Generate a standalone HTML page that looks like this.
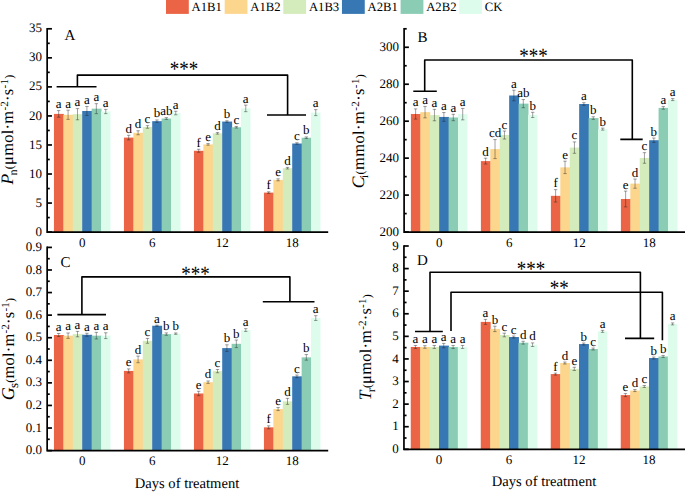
<!DOCTYPE html>
<html><head><meta charset="utf-8"><style>
html,body{margin:0;padding:0;background:#fff;}
svg{display:block;}
text{font-family:"Liberation Serif", serif;fill:#000;text-rendering:geometricPrecision;}
.tk{font-size:13px;}
.lt{font-size:13px;text-anchor:middle;}
.pl{font-size:15px;}
.st{font-size:19px;text-anchor:middle;}
.lg{font-size:12.7px;}
.xt{font-size:14.6px;}
.yl{font-size:16.5px;}
</style></head><body>
<svg width="685" height="492" viewBox="0 0 685 492">
<rect width="685" height="492" fill="#fff"/>
<rect x="53.95" y="113.90" width="9.92" height="118.20" fill="#EB6445"/>
<rect x="63.37" y="114.77" width="9.92" height="117.33" fill="#FDD68E"/>
<rect x="72.79" y="114.19" width="9.92" height="117.91" fill="#D4EBBB"/>
<rect x="82.21" y="110.99" width="9.92" height="121.11" fill="#3777B4"/>
<rect x="91.63" y="108.67" width="9.92" height="123.43" fill="#8BCDB4"/>
<rect x="101.05" y="111.51" width="9.42" height="120.59" fill="#DDFCEC"/>
<rect x="123.95" y="137.59" width="9.92" height="94.51" fill="#EB6445"/>
<rect x="133.37" y="132.77" width="9.92" height="99.33" fill="#FDD68E"/>
<rect x="142.79" y="126.96" width="9.92" height="105.14" fill="#D4EBBB"/>
<rect x="152.21" y="121.16" width="9.92" height="110.94" fill="#3777B4"/>
<rect x="161.63" y="118.54" width="9.92" height="113.56" fill="#8BCDB4"/>
<rect x="171.05" y="113.02" width="9.42" height="119.08" fill="#DDFCEC"/>
<rect x="193.95" y="150.78" width="9.92" height="81.32" fill="#EB6445"/>
<rect x="203.37" y="144.39" width="9.92" height="87.71" fill="#FDD68E"/>
<rect x="212.79" y="133.35" width="9.92" height="98.75" fill="#D4EBBB"/>
<rect x="222.21" y="121.56" width="9.92" height="110.54" fill="#3777B4"/>
<rect x="231.63" y="127.26" width="9.92" height="104.84" fill="#8BCDB4"/>
<rect x="241.05" y="108.38" width="9.42" height="123.72" fill="#DDFCEC"/>
<rect x="263.95" y="192.60" width="9.92" height="39.50" fill="#EB6445"/>
<rect x="273.37" y="179.82" width="9.92" height="52.28" fill="#FDD68E"/>
<rect x="282.79" y="168.21" width="9.92" height="63.89" fill="#D4EBBB"/>
<rect x="292.21" y="143.52" width="9.92" height="88.58" fill="#3777B4"/>
<rect x="301.63" y="137.71" width="9.92" height="94.39" fill="#8BCDB4"/>
<rect x="311.05" y="112.62" width="9.42" height="119.48" fill="#DDFCEC"/>
<path d="M56.96 110.60H60.36M58.66 110.60V117.20M56.96 117.20H60.36" stroke="#222" stroke-width="0.6" stroke-opacity="0.72" fill="none"/>
<text x="58.66" y="108.10" class="lt">a</text>
<path d="M66.38 110.17H69.78M68.08 110.17V119.37M66.38 119.37H69.78" stroke="#222" stroke-width="0.6" stroke-opacity="0.72" fill="none"/>
<text x="68.08" y="107.67" class="lt">a</text>
<path d="M75.80 108.59H79.20M77.50 108.59V119.79M75.80 119.79H79.20" stroke="#222" stroke-width="0.6" stroke-opacity="0.72" fill="none"/>
<text x="77.50" y="106.09" class="lt">a</text>
<path d="M85.22 106.49H88.62M86.92 106.49V115.49M85.22 115.49H88.62" stroke="#222" stroke-width="0.6" stroke-opacity="0.72" fill="none"/>
<text x="86.92" y="103.99" class="lt">a</text>
<path d="M94.64 103.67H98.04M96.34 103.67V113.67M94.64 113.67H98.04" stroke="#222" stroke-width="0.6" stroke-opacity="0.72" fill="none"/>
<text x="96.34" y="101.17" class="lt">a</text>
<path d="M104.06 109.41H107.46M105.76 109.41V113.61M104.06 113.61H107.46" stroke="#222" stroke-width="0.6" stroke-opacity="0.72" fill="none"/>
<text x="105.76" y="106.91" class="lt">a</text>
<path d="M126.96 135.29H130.36M128.66 135.29V139.89M126.96 139.89H130.36" stroke="#222" stroke-width="0.6" stroke-opacity="0.72" fill="none"/>
<text x="128.66" y="132.79" class="lt">d</text>
<path d="M136.38 130.77H139.78M138.08 130.77V134.77M136.38 134.77H139.78" stroke="#222" stroke-width="0.6" stroke-opacity="0.72" fill="none"/>
<text x="138.08" y="128.27" class="lt">d</text>
<path d="M145.80 125.66H149.20M147.50 125.66V128.26M145.80 128.26H149.20" stroke="#222" stroke-width="0.6" stroke-opacity="0.72" fill="none"/>
<text x="147.50" y="123.16" class="lt">c</text>
<path d="M155.22 119.96H158.62M156.92 119.96V122.36M155.22 122.36H158.62" stroke="#222" stroke-width="0.6" stroke-opacity="0.72" fill="none"/>
<text x="156.92" y="117.46" class="lt">b</text>
<path d="M164.64 117.64H168.04M166.34 117.64V119.44M164.64 119.44H168.04" stroke="#222" stroke-width="0.6" stroke-opacity="0.72" fill="none"/>
<text x="166.34" y="115.14" class="lt">ab</text>
<path d="M174.06 111.22H177.46M175.76 111.22V114.82M174.06 114.82H177.46" stroke="#222" stroke-width="0.6" stroke-opacity="0.72" fill="none"/>
<text x="175.76" y="108.72" class="lt">a</text>
<path d="M196.96 149.28H200.36M198.66 149.28V152.28M196.96 152.28H200.36" stroke="#222" stroke-width="0.6" stroke-opacity="0.72" fill="none"/>
<text x="198.66" y="146.78" class="lt">f</text>
<path d="M206.38 143.59H209.78M208.08 143.59V145.19M206.38 145.19H209.78" stroke="#222" stroke-width="0.6" stroke-opacity="0.72" fill="none"/>
<text x="208.08" y="141.09" class="lt">e</text>
<path d="M215.80 132.55H219.20M217.50 132.55V134.15M215.80 134.15H219.20" stroke="#222" stroke-width="0.6" stroke-opacity="0.72" fill="none"/>
<text x="217.50" y="130.05" class="lt">d</text>
<path d="M225.22 120.76H228.62M226.92 120.76V122.36M225.22 122.36H228.62" stroke="#222" stroke-width="0.6" stroke-opacity="0.72" fill="none"/>
<text x="226.92" y="118.26" class="lt">b</text>
<path d="M234.64 126.46H238.04M236.34 126.46V128.06M234.64 128.06H238.04" stroke="#222" stroke-width="0.6" stroke-opacity="0.72" fill="none"/>
<text x="236.34" y="123.96" class="lt">c</text>
<path d="M244.06 105.08H247.46M245.76 105.08V111.68M244.06 111.68H247.46" stroke="#222" stroke-width="0.6" stroke-opacity="0.72" fill="none"/>
<text x="245.76" y="102.58" class="lt">a</text>
<path d="M266.96 191.80H270.36M268.66 191.80V193.40M266.96 193.40H270.36" stroke="#222" stroke-width="0.6" stroke-opacity="0.72" fill="none"/>
<text x="268.66" y="189.30" class="lt">f</text>
<path d="M276.38 178.82H279.78M278.08 178.82V180.82M276.38 180.82H279.78" stroke="#222" stroke-width="0.6" stroke-opacity="0.72" fill="none"/>
<text x="278.08" y="176.32" class="lt">e</text>
<path d="M285.80 167.41H289.20M287.50 167.41V169.01M285.80 169.01H289.20" stroke="#222" stroke-width="0.6" stroke-opacity="0.72" fill="none"/>
<text x="287.50" y="164.91" class="lt">d</text>
<path d="M295.22 142.72H298.62M296.92 142.72V144.32M295.22 144.32H298.62" stroke="#222" stroke-width="0.6" stroke-opacity="0.72" fill="none"/>
<text x="296.92" y="140.22" class="lt">c</text>
<path d="M304.64 136.91H308.04M306.34 136.91V138.51M304.64 138.51H308.04" stroke="#222" stroke-width="0.6" stroke-opacity="0.72" fill="none"/>
<text x="306.34" y="134.41" class="lt">b</text>
<path d="M314.06 109.62H317.46M315.76 109.62V115.62M314.06 115.62H317.46" stroke="#222" stroke-width="0.6" stroke-opacity="0.72" fill="none"/>
<text x="315.76" y="107.12" class="lt">a</text>
<path d="M47.15 28.80V232.10H327.35" stroke="#000" stroke-width="1.7" fill="none" stroke-linecap="square"/>
<path d="M47.15 232.10H51.95" stroke="#000" stroke-width="1.7"/>
<path d="M47.15 203.06H51.95" stroke="#000" stroke-width="1.7"/>
<path d="M47.15 174.01H51.95" stroke="#000" stroke-width="1.7"/>
<path d="M47.15 144.97H51.95" stroke="#000" stroke-width="1.7"/>
<path d="M47.15 115.93H51.95" stroke="#000" stroke-width="1.7"/>
<path d="M47.15 86.89H51.95" stroke="#000" stroke-width="1.7"/>
<path d="M47.15 57.84H51.95" stroke="#000" stroke-width="1.7"/>
<path d="M47.15 28.80H51.95" stroke="#000" stroke-width="1.7"/>
<path d="M47.15 217.58H49.75" stroke="#000" stroke-width="1.7"/>
<path d="M47.15 188.54H49.75" stroke="#000" stroke-width="1.7"/>
<path d="M47.15 159.49H49.75" stroke="#000" stroke-width="1.7"/>
<path d="M47.15 130.45H49.75" stroke="#000" stroke-width="1.7"/>
<path d="M47.15 101.41H49.75" stroke="#000" stroke-width="1.7"/>
<path d="M47.15 72.36H49.75" stroke="#000" stroke-width="1.7"/>
<path d="M47.15 43.32H49.75" stroke="#000" stroke-width="1.7"/>
<text x="42.05" y="235.70" class="tk" text-anchor="end">0</text>
<text x="42.05" y="206.66" class="tk" text-anchor="end">5</text>
<text x="42.05" y="177.61" class="tk" text-anchor="end">10</text>
<text x="42.05" y="148.57" class="tk" text-anchor="end">15</text>
<text x="42.05" y="119.53" class="tk" text-anchor="end">20</text>
<text x="42.05" y="90.49" class="tk" text-anchor="end">25</text>
<text x="42.05" y="61.44" class="tk" text-anchor="end">30</text>
<text x="42.05" y="32.40" class="tk" text-anchor="end">35</text>
<text x="82.21" y="246.90" class="tk" text-anchor="middle">0</text>
<text x="152.21" y="246.90" class="tk" text-anchor="middle">6</text>
<text x="222.21" y="246.90" class="tk" text-anchor="middle">12</text>
<text x="292.21" y="246.90" class="tk" text-anchor="middle">18</text>
<rect x="410.90" y="113.98" width="9.92" height="118.07" fill="#EB6445"/>
<rect x="420.32" y="112.13" width="9.92" height="119.92" fill="#FDD68E"/>
<rect x="429.74" y="115.09" width="9.92" height="116.96" fill="#D4EBBB"/>
<rect x="439.16" y="116.94" width="9.92" height="115.11" fill="#3777B4"/>
<rect x="448.58" y="117.49" width="9.92" height="114.56" fill="#8BCDB4"/>
<rect x="458.00" y="114.16" width="9.42" height="117.89" fill="#DDFCEC"/>
<rect x="480.90" y="161.10" width="9.92" height="70.95" fill="#EB6445"/>
<rect x="490.32" y="149.09" width="9.92" height="82.96" fill="#FDD68E"/>
<rect x="499.74" y="135.04" width="9.92" height="97.01" fill="#D4EBBB"/>
<rect x="509.16" y="95.50" width="9.92" height="136.55" fill="#3777B4"/>
<rect x="518.58" y="103.63" width="9.92" height="128.42" fill="#8BCDB4"/>
<rect x="528.00" y="114.90" width="9.42" height="117.15" fill="#DDFCEC"/>
<rect x="550.90" y="195.83" width="9.92" height="36.22" fill="#EB6445"/>
<rect x="560.32" y="167.38" width="9.92" height="64.67" fill="#FDD68E"/>
<rect x="569.74" y="147.61" width="9.92" height="84.44" fill="#D4EBBB"/>
<rect x="579.16" y="104.00" width="9.92" height="128.05" fill="#3777B4"/>
<rect x="588.58" y="118.05" width="9.92" height="114.00" fill="#8BCDB4"/>
<rect x="598.00" y="129.13" width="9.42" height="102.92" fill="#DDFCEC"/>
<rect x="620.90" y="198.98" width="9.92" height="33.07" fill="#EB6445"/>
<rect x="630.32" y="183.64" width="9.92" height="48.41" fill="#FDD68E"/>
<rect x="639.74" y="157.96" width="9.92" height="74.09" fill="#D4EBBB"/>
<rect x="649.16" y="140.22" width="9.92" height="91.83" fill="#3777B4"/>
<rect x="658.58" y="107.88" width="9.92" height="124.17" fill="#8BCDB4"/>
<rect x="668.00" y="99.57" width="9.42" height="132.48" fill="#DDFCEC"/>
<path d="M413.91 108.88H417.31M415.61 108.88V119.08M413.91 119.08H417.31" stroke="#222" stroke-width="0.6" stroke-opacity="0.72" fill="none"/>
<text x="415.61" y="106.38" class="lt">a</text>
<path d="M423.33 106.43H426.73M425.03 106.43V117.83M423.33 117.83H426.73" stroke="#222" stroke-width="0.6" stroke-opacity="0.72" fill="none"/>
<text x="425.03" y="103.93" class="lt">a</text>
<path d="M432.75 109.39H436.15M434.45 109.39V120.79M432.75 120.79H436.15" stroke="#222" stroke-width="0.6" stroke-opacity="0.72" fill="none"/>
<text x="434.45" y="106.89" class="lt">a</text>
<path d="M442.17 112.54H445.57M443.87 112.54V121.34M442.17 121.34H445.57" stroke="#222" stroke-width="0.6" stroke-opacity="0.72" fill="none"/>
<text x="443.87" y="110.04" class="lt">a</text>
<path d="M451.59 114.29H454.99M453.29 114.29V120.69M451.59 120.69H454.99" stroke="#222" stroke-width="0.6" stroke-opacity="0.72" fill="none"/>
<text x="453.29" y="111.79" class="lt">a</text>
<path d="M461.01 108.46H464.41M462.71 108.46V119.86M461.01 119.86H464.41" stroke="#222" stroke-width="0.6" stroke-opacity="0.72" fill="none"/>
<text x="462.71" y="105.96" class="lt">a</text>
<path d="M483.91 158.20H487.31M485.61 158.20V164.00M483.91 164.00H487.31" stroke="#222" stroke-width="0.6" stroke-opacity="0.72" fill="none"/>
<text x="485.61" y="155.70" class="lt">d</text>
<path d="M493.33 139.59H496.73M495.03 139.59V158.59M493.33 158.59H496.73" stroke="#222" stroke-width="0.6" stroke-opacity="0.72" fill="none"/>
<text x="495.03" y="137.09" class="lt">cd</text>
<path d="M502.75 131.04H506.15M504.45 131.04V139.04M502.75 139.04H506.15" stroke="#222" stroke-width="0.6" stroke-opacity="0.72" fill="none"/>
<text x="504.45" y="128.54" class="lt">c</text>
<path d="M512.17 90.20H515.57M513.87 90.20V100.80M512.17 100.80H515.57" stroke="#222" stroke-width="0.6" stroke-opacity="0.72" fill="none"/>
<text x="513.87" y="87.70" class="lt">a</text>
<path d="M521.59 99.53H524.99M523.29 99.53V107.73M521.59 107.73H524.99" stroke="#222" stroke-width="0.6" stroke-opacity="0.72" fill="none"/>
<text x="523.29" y="97.03" class="lt">ab</text>
<path d="M531.01 112.30H534.41M532.71 112.30V117.50M531.01 117.50H534.41" stroke="#222" stroke-width="0.6" stroke-opacity="0.72" fill="none"/>
<text x="532.71" y="109.80" class="lt">b</text>
<path d="M553.91 189.63H557.31M555.61 189.63V202.03M553.91 202.03H557.31" stroke="#222" stroke-width="0.6" stroke-opacity="0.72" fill="none"/>
<text x="555.61" y="187.13" class="lt">f</text>
<path d="M563.33 161.18H566.73M565.03 161.18V173.58M563.33 173.58H566.73" stroke="#222" stroke-width="0.6" stroke-opacity="0.72" fill="none"/>
<text x="565.03" y="158.68" class="lt">e</text>
<path d="M572.75 141.91H576.15M574.45 141.91V153.31M572.75 153.31H576.15" stroke="#222" stroke-width="0.6" stroke-opacity="0.72" fill="none"/>
<text x="574.45" y="139.41" class="lt">c</text>
<path d="M582.17 102.70H585.57M583.87 102.70V105.30M582.17 105.30H585.57" stroke="#222" stroke-width="0.6" stroke-opacity="0.72" fill="none"/>
<text x="583.87" y="100.20" class="lt">a</text>
<path d="M591.59 116.75H594.99M593.29 116.75V119.35M591.59 119.35H594.99" stroke="#222" stroke-width="0.6" stroke-opacity="0.72" fill="none"/>
<text x="593.29" y="114.25" class="lt">b</text>
<path d="M601.01 128.13H604.41M602.71 128.13V130.13M601.01 130.13H604.41" stroke="#222" stroke-width="0.6" stroke-opacity="0.72" fill="none"/>
<text x="602.71" y="125.63" class="lt">b</text>
<path d="M623.91 191.08H627.31M625.61 191.08V206.88M623.91 206.88H627.31" stroke="#222" stroke-width="0.6" stroke-opacity="0.72" fill="none"/>
<text x="625.61" y="188.58" class="lt">e</text>
<path d="M633.33 179.04H636.73M635.03 179.04V188.24M633.33 188.24H636.73" stroke="#222" stroke-width="0.6" stroke-opacity="0.72" fill="none"/>
<text x="635.03" y="176.54" class="lt">d</text>
<path d="M642.75 152.66H646.15M644.45 152.66V163.26M642.75 163.26H646.15" stroke="#222" stroke-width="0.6" stroke-opacity="0.72" fill="none"/>
<text x="644.45" y="150.16" class="lt">c</text>
<path d="M652.17 138.02H655.57M653.87 138.02V142.42M652.17 142.42H655.57" stroke="#222" stroke-width="0.6" stroke-opacity="0.72" fill="none"/>
<text x="653.87" y="135.52" class="lt">b</text>
<path d="M661.59 106.58H664.99M663.29 106.58V109.18M661.59 109.18H664.99" stroke="#222" stroke-width="0.6" stroke-opacity="0.72" fill="none"/>
<text x="663.29" y="104.08" class="lt">a</text>
<path d="M671.01 98.57H674.41M672.71 98.57V100.57M671.01 100.57H674.41" stroke="#222" stroke-width="0.6" stroke-opacity="0.72" fill="none"/>
<text x="672.71" y="96.07" class="lt">a</text>
<path d="M404.10 28.80V232.05H685.00" stroke="#000" stroke-width="1.7" fill="none" stroke-linecap="square"/>
<path d="M404.10 232.05H408.90" stroke="#000" stroke-width="1.7"/>
<path d="M404.10 195.10H408.90" stroke="#000" stroke-width="1.7"/>
<path d="M404.10 158.14H408.90" stroke="#000" stroke-width="1.7"/>
<path d="M404.10 121.19H408.90" stroke="#000" stroke-width="1.7"/>
<path d="M404.10 84.23H408.90" stroke="#000" stroke-width="1.7"/>
<path d="M404.10 47.28H408.90" stroke="#000" stroke-width="1.7"/>
<path d="M404.10 213.57H406.70" stroke="#000" stroke-width="1.7"/>
<path d="M404.10 176.62H406.70" stroke="#000" stroke-width="1.7"/>
<path d="M404.10 139.66H406.70" stroke="#000" stroke-width="1.7"/>
<path d="M404.10 102.71H406.70" stroke="#000" stroke-width="1.7"/>
<path d="M404.10 65.75H406.70" stroke="#000" stroke-width="1.7"/>
<path d="M404.10 28.80H406.70" stroke="#000" stroke-width="1.7"/>
<text x="399.00" y="235.65" class="tk" text-anchor="end">200</text>
<text x="399.00" y="198.70" class="tk" text-anchor="end">220</text>
<text x="399.00" y="161.74" class="tk" text-anchor="end">240</text>
<text x="399.00" y="124.79" class="tk" text-anchor="end">260</text>
<text x="399.00" y="87.83" class="tk" text-anchor="end">280</text>
<text x="399.00" y="50.88" class="tk" text-anchor="end">300</text>
<text x="439.16" y="246.85" class="tk" text-anchor="middle">0</text>
<text x="509.16" y="246.85" class="tk" text-anchor="middle">6</text>
<text x="579.16" y="246.85" class="tk" text-anchor="middle">12</text>
<text x="649.16" y="246.85" class="tk" text-anchor="middle">18</text>
<rect x="53.95" y="335.00" width="9.92" height="115.60" fill="#EB6445"/>
<rect x="63.37" y="335.68" width="9.92" height="114.92" fill="#FDD68E"/>
<rect x="72.79" y="334.10" width="9.92" height="116.50" fill="#D4EBBB"/>
<rect x="82.21" y="334.78" width="9.92" height="115.82" fill="#3777B4"/>
<rect x="91.63" y="335.68" width="9.92" height="114.92" fill="#8BCDB4"/>
<rect x="101.05" y="335.68" width="9.42" height="114.92" fill="#DDFCEC"/>
<rect x="123.95" y="370.90" width="9.92" height="79.70" fill="#EB6445"/>
<rect x="133.37" y="359.39" width="9.92" height="91.21" fill="#FDD68E"/>
<rect x="142.79" y="340.87" width="9.92" height="109.73" fill="#D4EBBB"/>
<rect x="152.21" y="325.74" width="9.92" height="124.86" fill="#3777B4"/>
<rect x="161.63" y="334.10" width="9.92" height="116.50" fill="#8BCDB4"/>
<rect x="171.05" y="333.65" width="9.42" height="116.95" fill="#DDFCEC"/>
<rect x="193.95" y="393.48" width="9.92" height="57.12" fill="#EB6445"/>
<rect x="203.37" y="382.19" width="9.92" height="68.41" fill="#FDD68E"/>
<rect x="212.79" y="371.13" width="9.92" height="79.47" fill="#D4EBBB"/>
<rect x="222.21" y="348.10" width="9.92" height="102.50" fill="#3777B4"/>
<rect x="231.63" y="343.81" width="9.92" height="106.79" fill="#8BCDB4"/>
<rect x="241.05" y="330.03" width="9.42" height="120.57" fill="#DDFCEC"/>
<rect x="263.95" y="427.34" width="9.92" height="23.26" fill="#EB6445"/>
<rect x="273.37" y="409.06" width="9.92" height="41.54" fill="#FDD68E"/>
<rect x="282.79" y="401.38" width="9.92" height="49.22" fill="#D4EBBB"/>
<rect x="292.21" y="376.32" width="9.92" height="74.28" fill="#3777B4"/>
<rect x="301.63" y="357.35" width="9.92" height="93.25" fill="#8BCDB4"/>
<rect x="311.05" y="318.07" width="9.42" height="132.53" fill="#DDFCEC"/>
<path d="M56.96 333.50H60.36M58.66 333.50V336.50M56.96 336.50H60.36" stroke="#222" stroke-width="0.6" stroke-opacity="0.72" fill="none"/>
<text x="58.66" y="331.00" class="lt">a</text>
<path d="M66.38 332.98H69.78M68.08 332.98V338.38M66.38 338.38H69.78" stroke="#222" stroke-width="0.6" stroke-opacity="0.72" fill="none"/>
<text x="68.08" y="330.48" class="lt">a</text>
<path d="M75.80 331.40H79.20M77.50 331.40V336.80M75.80 336.80H79.20" stroke="#222" stroke-width="0.6" stroke-opacity="0.72" fill="none"/>
<text x="77.50" y="328.90" class="lt">a</text>
<path d="M85.22 333.28H88.62M86.92 333.28V336.28M85.22 336.28H88.62" stroke="#222" stroke-width="0.6" stroke-opacity="0.72" fill="none"/>
<text x="86.92" y="330.78" class="lt">a</text>
<path d="M94.64 332.38H98.04M96.34 332.38V338.98M94.64 338.98H98.04" stroke="#222" stroke-width="0.6" stroke-opacity="0.72" fill="none"/>
<text x="96.34" y="329.88" class="lt">a</text>
<path d="M104.06 332.78H107.46M105.76 332.78V338.58M104.06 338.58H107.46" stroke="#222" stroke-width="0.6" stroke-opacity="0.72" fill="none"/>
<text x="105.76" y="330.28" class="lt">a</text>
<path d="M126.96 368.90H130.36M128.66 368.90V372.90M126.96 372.90H130.36" stroke="#222" stroke-width="0.6" stroke-opacity="0.72" fill="none"/>
<text x="128.66" y="366.40" class="lt">e</text>
<path d="M136.38 356.09H139.78M138.08 356.09V362.69M136.38 362.69H139.78" stroke="#222" stroke-width="0.6" stroke-opacity="0.72" fill="none"/>
<text x="138.08" y="353.59" class="lt">d</text>
<path d="M145.80 338.47H149.20M147.50 338.47V343.27M145.80 343.27H149.20" stroke="#222" stroke-width="0.6" stroke-opacity="0.72" fill="none"/>
<text x="147.50" y="335.97" class="lt">c</text>
<path d="M155.22 325.14H158.62M156.92 325.14V326.34M155.22 326.34H158.62" stroke="#222" stroke-width="0.6" stroke-opacity="0.72" fill="none"/>
<text x="156.92" y="322.64" class="lt">a</text>
<path d="M164.64 332.90H168.04M166.34 332.90V335.30M164.64 335.30H168.04" stroke="#222" stroke-width="0.6" stroke-opacity="0.72" fill="none"/>
<text x="166.34" y="330.40" class="lt">b</text>
<path d="M174.06 332.95H177.46M175.76 332.95V334.35M174.06 334.35H177.46" stroke="#222" stroke-width="0.6" stroke-opacity="0.72" fill="none"/>
<text x="175.76" y="330.45" class="lt">b</text>
<path d="M196.96 391.28H200.36M198.66 391.28V395.68M196.96 395.68H200.36" stroke="#222" stroke-width="0.6" stroke-opacity="0.72" fill="none"/>
<text x="198.66" y="388.78" class="lt">e</text>
<path d="M206.38 380.99H209.78M208.08 380.99V383.39M206.38 383.39H209.78" stroke="#222" stroke-width="0.6" stroke-opacity="0.72" fill="none"/>
<text x="208.08" y="378.49" class="lt">d</text>
<path d="M215.80 369.53H219.20M217.50 369.53V372.73M215.80 372.73H219.20" stroke="#222" stroke-width="0.6" stroke-opacity="0.72" fill="none"/>
<text x="217.50" y="367.03" class="lt">c</text>
<path d="M225.22 344.80H228.62M226.92 344.80V351.40M225.22 351.40H228.62" stroke="#222" stroke-width="0.6" stroke-opacity="0.72" fill="none"/>
<text x="226.92" y="342.30" class="lt">b</text>
<path d="M234.64 340.01H238.04M236.34 340.01V347.61M234.64 347.61H238.04" stroke="#222" stroke-width="0.6" stroke-opacity="0.72" fill="none"/>
<text x="236.34" y="337.51" class="lt">b</text>
<path d="M244.06 328.63H247.46M245.76 328.63V331.43M244.06 331.43H247.46" stroke="#222" stroke-width="0.6" stroke-opacity="0.72" fill="none"/>
<text x="245.76" y="326.13" class="lt">a</text>
<path d="M266.96 425.84H270.36M268.66 425.84V428.84M266.96 428.84H270.36" stroke="#222" stroke-width="0.6" stroke-opacity="0.72" fill="none"/>
<text x="268.66" y="423.34" class="lt">f</text>
<path d="M276.38 407.56H279.78M278.08 407.56V410.56M276.38 410.56H279.78" stroke="#222" stroke-width="0.6" stroke-opacity="0.72" fill="none"/>
<text x="278.08" y="405.06" class="lt">e</text>
<path d="M285.80 398.38H289.20M287.50 398.38V404.38M285.80 404.38H289.20" stroke="#222" stroke-width="0.6" stroke-opacity="0.72" fill="none"/>
<text x="287.50" y="395.88" class="lt">d</text>
<path d="M295.22 375.02H298.62M296.92 375.02V377.62M295.22 377.62H298.62" stroke="#222" stroke-width="0.6" stroke-opacity="0.72" fill="none"/>
<text x="296.92" y="372.52" class="lt">c</text>
<path d="M304.64 354.55H308.04M306.34 354.55V360.15M304.64 360.15H308.04" stroke="#222" stroke-width="0.6" stroke-opacity="0.72" fill="none"/>
<text x="306.34" y="352.05" class="lt">b</text>
<path d="M314.06 315.67H317.46M315.76 315.67V320.47M314.06 320.47H317.46" stroke="#222" stroke-width="0.6" stroke-opacity="0.72" fill="none"/>
<text x="315.76" y="313.17" class="lt">a</text>
<path d="M47.15 247.40V450.60H327.35" stroke="#000" stroke-width="1.7" fill="none" stroke-linecap="square"/>
<path d="M47.15 450.60H51.95" stroke="#000" stroke-width="1.7"/>
<path d="M47.15 428.02H51.95" stroke="#000" stroke-width="1.7"/>
<path d="M47.15 405.44H51.95" stroke="#000" stroke-width="1.7"/>
<path d="M47.15 382.87H51.95" stroke="#000" stroke-width="1.7"/>
<path d="M47.15 360.29H51.95" stroke="#000" stroke-width="1.7"/>
<path d="M47.15 337.71H51.95" stroke="#000" stroke-width="1.7"/>
<path d="M47.15 315.13H51.95" stroke="#000" stroke-width="1.7"/>
<path d="M47.15 292.56H51.95" stroke="#000" stroke-width="1.7"/>
<path d="M47.15 269.98H51.95" stroke="#000" stroke-width="1.7"/>
<path d="M47.15 247.40H51.95" stroke="#000" stroke-width="1.7"/>
<path d="M47.15 439.31H49.75" stroke="#000" stroke-width="1.7"/>
<path d="M47.15 416.73H49.75" stroke="#000" stroke-width="1.7"/>
<path d="M47.15 394.16H49.75" stroke="#000" stroke-width="1.7"/>
<path d="M47.15 371.58H49.75" stroke="#000" stroke-width="1.7"/>
<path d="M47.15 349.00H49.75" stroke="#000" stroke-width="1.7"/>
<path d="M47.15 326.42H49.75" stroke="#000" stroke-width="1.7"/>
<path d="M47.15 303.84H49.75" stroke="#000" stroke-width="1.7"/>
<path d="M47.15 281.27H49.75" stroke="#000" stroke-width="1.7"/>
<path d="M47.15 258.69H49.75" stroke="#000" stroke-width="1.7"/>
<text x="42.05" y="454.20" class="tk" text-anchor="end">0.0</text>
<text x="42.05" y="431.62" class="tk" text-anchor="end">0.1</text>
<text x="42.05" y="409.04" class="tk" text-anchor="end">0.2</text>
<text x="42.05" y="386.47" class="tk" text-anchor="end">0.3</text>
<text x="42.05" y="363.89" class="tk" text-anchor="end">0.4</text>
<text x="42.05" y="341.31" class="tk" text-anchor="end">0.5</text>
<text x="42.05" y="318.73" class="tk" text-anchor="end">0.6</text>
<text x="42.05" y="296.16" class="tk" text-anchor="end">0.7</text>
<text x="42.05" y="273.58" class="tk" text-anchor="end">0.8</text>
<text x="42.05" y="251.00" class="tk" text-anchor="end">0.9</text>
<text x="82.21" y="465.40" class="tk" text-anchor="middle">0</text>
<text x="152.21" y="465.40" class="tk" text-anchor="middle">6</text>
<text x="222.21" y="465.40" class="tk" text-anchor="middle">12</text>
<text x="292.21" y="465.40" class="tk" text-anchor="middle">18</text>
<rect x="410.75" y="346.97" width="9.92" height="102.33" fill="#EB6445"/>
<rect x="420.17" y="346.97" width="9.92" height="102.33" fill="#FDD68E"/>
<rect x="429.59" y="346.97" width="9.92" height="102.33" fill="#D4EBBB"/>
<rect x="439.01" y="345.62" width="9.92" height="103.68" fill="#3777B4"/>
<rect x="448.43" y="346.97" width="9.92" height="102.33" fill="#8BCDB4"/>
<rect x="457.85" y="346.97" width="9.42" height="102.33" fill="#DDFCEC"/>
<rect x="480.75" y="321.90" width="9.92" height="127.40" fill="#EB6445"/>
<rect x="490.17" y="328.90" width="9.92" height="120.40" fill="#FDD68E"/>
<rect x="499.59" y="335.00" width="9.92" height="114.30" fill="#D4EBBB"/>
<rect x="509.01" y="337.03" width="9.92" height="112.27" fill="#3777B4"/>
<rect x="518.43" y="342.68" width="9.92" height="106.62" fill="#8BCDB4"/>
<rect x="527.85" y="344.71" width="9.42" height="104.59" fill="#DDFCEC"/>
<rect x="550.75" y="374.08" width="9.92" height="75.22" fill="#EB6445"/>
<rect x="560.17" y="363.01" width="9.92" height="86.29" fill="#FDD68E"/>
<rect x="569.59" y="368.88" width="9.92" height="80.42" fill="#D4EBBB"/>
<rect x="579.01" y="344.04" width="9.92" height="105.26" fill="#3777B4"/>
<rect x="588.43" y="349.01" width="9.92" height="100.29" fill="#8BCDB4"/>
<rect x="597.85" y="331.39" width="9.42" height="117.91" fill="#DDFCEC"/>
<rect x="620.75" y="395.09" width="9.92" height="54.21" fill="#EB6445"/>
<rect x="630.17" y="390.57" width="9.92" height="58.73" fill="#FDD68E"/>
<rect x="639.59" y="386.50" width="9.92" height="62.80" fill="#D4EBBB"/>
<rect x="649.01" y="358.04" width="9.92" height="91.26" fill="#3777B4"/>
<rect x="658.43" y="356.46" width="9.92" height="92.84" fill="#8BCDB4"/>
<rect x="667.85" y="323.93" width="9.42" height="125.37" fill="#DDFCEC"/>
<path d="M413.76 345.47H417.16M415.46 345.47V348.47M413.76 348.47H417.16" stroke="#222" stroke-width="0.6" stroke-opacity="0.72" fill="none"/>
<text x="415.46" y="342.97" class="lt">a</text>
<path d="M423.18 345.67H426.58M424.88 345.67V348.27M423.18 348.27H426.58" stroke="#222" stroke-width="0.6" stroke-opacity="0.72" fill="none"/>
<text x="424.88" y="343.17" class="lt">a</text>
<path d="M432.60 345.47H436.00M434.30 345.47V348.47M432.60 348.47H436.00" stroke="#222" stroke-width="0.6" stroke-opacity="0.72" fill="none"/>
<text x="434.30" y="342.97" class="lt">a</text>
<path d="M442.02 343.42H445.42M443.72 343.42V347.82M442.02 347.82H445.42" stroke="#222" stroke-width="0.6" stroke-opacity="0.72" fill="none"/>
<text x="443.72" y="340.92" class="lt">a</text>
<path d="M451.44 345.47H454.84M453.14 345.47V348.47M451.44 348.47H454.84" stroke="#222" stroke-width="0.6" stroke-opacity="0.72" fill="none"/>
<text x="453.14" y="342.97" class="lt">a</text>
<path d="M460.86 345.47H464.26M462.56 345.47V348.47M460.86 348.47H464.26" stroke="#222" stroke-width="0.6" stroke-opacity="0.72" fill="none"/>
<text x="462.56" y="342.97" class="lt">a</text>
<path d="M483.76 319.40H487.16M485.46 319.40V324.40M483.76 324.40H487.16" stroke="#222" stroke-width="0.6" stroke-opacity="0.72" fill="none"/>
<text x="485.46" y="316.90" class="lt">a</text>
<path d="M493.18 326.20H496.58M494.88 326.20V331.60M493.18 331.60H496.58" stroke="#222" stroke-width="0.6" stroke-opacity="0.72" fill="none"/>
<text x="494.88" y="323.70" class="lt">b</text>
<path d="M502.60 333.20H506.00M504.30 333.20V336.80M502.60 336.80H506.00" stroke="#222" stroke-width="0.6" stroke-opacity="0.72" fill="none"/>
<text x="504.30" y="330.70" class="lt">c</text>
<path d="M512.02 336.03H515.42M513.72 336.03V338.03M512.02 338.03H515.42" stroke="#222" stroke-width="0.6" stroke-opacity="0.72" fill="none"/>
<text x="513.72" y="333.53" class="lt">c</text>
<path d="M521.44 341.28H524.84M523.14 341.28V344.08M521.44 344.08H524.84" stroke="#222" stroke-width="0.6" stroke-opacity="0.72" fill="none"/>
<text x="523.14" y="338.78" class="lt">d</text>
<path d="M530.86 342.91H534.26M532.56 342.91V346.51M530.86 346.51H534.26" stroke="#222" stroke-width="0.6" stroke-opacity="0.72" fill="none"/>
<text x="532.56" y="340.41" class="lt">d</text>
<path d="M553.76 373.08H557.16M555.46 373.08V375.08M553.76 375.08H557.16" stroke="#222" stroke-width="0.6" stroke-opacity="0.72" fill="none"/>
<text x="555.46" y="370.58" class="lt">f</text>
<path d="M563.18 362.01H566.58M564.88 362.01V364.01M563.18 364.01H566.58" stroke="#222" stroke-width="0.6" stroke-opacity="0.72" fill="none"/>
<text x="564.88" y="359.51" class="lt">d</text>
<path d="M572.60 367.28H576.00M574.30 367.28V370.48M572.60 370.48H576.00" stroke="#222" stroke-width="0.6" stroke-opacity="0.72" fill="none"/>
<text x="574.30" y="364.78" class="lt">e</text>
<path d="M582.02 343.04H585.42M583.72 343.04V345.04M582.02 345.04H585.42" stroke="#222" stroke-width="0.6" stroke-opacity="0.72" fill="none"/>
<text x="583.72" y="340.54" class="lt">b</text>
<path d="M591.44 348.01H594.84M593.14 348.01V350.01M591.44 350.01H594.84" stroke="#222" stroke-width="0.6" stroke-opacity="0.72" fill="none"/>
<text x="593.14" y="345.51" class="lt">c</text>
<path d="M600.86 330.39H604.26M602.56 330.39V332.39M600.86 332.39H604.26" stroke="#222" stroke-width="0.6" stroke-opacity="0.72" fill="none"/>
<text x="602.56" y="327.89" class="lt">a</text>
<path d="M623.76 393.59H627.16M625.46 393.59V396.59M623.76 396.59H627.16" stroke="#222" stroke-width="0.6" stroke-opacity="0.72" fill="none"/>
<text x="625.46" y="391.09" class="lt">e</text>
<path d="M633.18 389.57H636.58M634.88 389.57V391.57M633.18 391.57H636.58" stroke="#222" stroke-width="0.6" stroke-opacity="0.72" fill="none"/>
<text x="634.88" y="387.07" class="lt">d</text>
<path d="M642.60 385.50H646.00M644.30 385.50V387.50M642.60 387.50H646.00" stroke="#222" stroke-width="0.6" stroke-opacity="0.72" fill="none"/>
<text x="644.30" y="383.00" class="lt">c</text>
<path d="M652.02 357.04H655.42M653.72 357.04V359.04M652.02 359.04H655.42" stroke="#222" stroke-width="0.6" stroke-opacity="0.72" fill="none"/>
<text x="653.72" y="354.54" class="lt">b</text>
<path d="M661.44 355.46H664.84M663.14 355.46V357.46M661.44 357.46H664.84" stroke="#222" stroke-width="0.6" stroke-opacity="0.72" fill="none"/>
<text x="663.14" y="352.96" class="lt">b</text>
<path d="M670.86 322.93H674.26M672.56 322.93V324.93M670.86 324.93H674.26" stroke="#222" stroke-width="0.6" stroke-opacity="0.72" fill="none"/>
<text x="672.56" y="320.43" class="lt">a</text>
<path d="M403.95 246.00V449.30H685.00" stroke="#000" stroke-width="1.7" fill="none" stroke-linecap="square"/>
<path d="M403.95 449.30H408.75" stroke="#000" stroke-width="1.7"/>
<path d="M403.95 426.71H408.75" stroke="#000" stroke-width="1.7"/>
<path d="M403.95 404.12H408.75" stroke="#000" stroke-width="1.7"/>
<path d="M403.95 381.53H408.75" stroke="#000" stroke-width="1.7"/>
<path d="M403.95 358.94H408.75" stroke="#000" stroke-width="1.7"/>
<path d="M403.95 336.36H408.75" stroke="#000" stroke-width="1.7"/>
<path d="M403.95 313.77H408.75" stroke="#000" stroke-width="1.7"/>
<path d="M403.95 291.18H408.75" stroke="#000" stroke-width="1.7"/>
<path d="M403.95 268.59H408.75" stroke="#000" stroke-width="1.7"/>
<path d="M403.95 246.00H408.75" stroke="#000" stroke-width="1.7"/>
<path d="M403.95 438.01H406.55" stroke="#000" stroke-width="1.7"/>
<path d="M403.95 415.42H406.55" stroke="#000" stroke-width="1.7"/>
<path d="M403.95 392.83H406.55" stroke="#000" stroke-width="1.7"/>
<path d="M403.95 370.24H406.55" stroke="#000" stroke-width="1.7"/>
<path d="M403.95 347.65H406.55" stroke="#000" stroke-width="1.7"/>
<path d="M403.95 325.06H406.55" stroke="#000" stroke-width="1.7"/>
<path d="M403.95 302.47H406.55" stroke="#000" stroke-width="1.7"/>
<path d="M403.95 279.88H406.55" stroke="#000" stroke-width="1.7"/>
<path d="M403.95 257.29H406.55" stroke="#000" stroke-width="1.7"/>
<text x="398.85" y="452.90" class="tk" text-anchor="end">0</text>
<text x="398.85" y="430.31" class="tk" text-anchor="end">1</text>
<text x="398.85" y="407.72" class="tk" text-anchor="end">2</text>
<text x="398.85" y="385.13" class="tk" text-anchor="end">3</text>
<text x="398.85" y="362.54" class="tk" text-anchor="end">4</text>
<text x="398.85" y="339.96" class="tk" text-anchor="end">5</text>
<text x="398.85" y="317.37" class="tk" text-anchor="end">6</text>
<text x="398.85" y="294.78" class="tk" text-anchor="end">7</text>
<text x="398.85" y="272.19" class="tk" text-anchor="end">8</text>
<text x="398.85" y="249.60" class="tk" text-anchor="end">9</text>
<text x="439.01" y="464.10" class="tk" text-anchor="middle">0</text>
<text x="509.01" y="464.10" class="tk" text-anchor="middle">6</text>
<text x="579.01" y="464.10" class="tk" text-anchor="middle">12</text>
<text x="649.01" y="464.10" class="tk" text-anchor="middle">18</text>
<text x="64.5" y="40" class="pl">A</text>
<text x="417.5" y="42" class="pl">B</text>
<text x="60.5" y="267" class="pl">C</text>
<text x="417" y="265" class="pl">D</text>
<path d="M56.6 86.7H96.5M77.4 86.7V75.1H287.6V115M267 115H306" stroke="#000" stroke-width="1.6" fill="none" stroke-linejoin="round"/>
<path d="M413.3 91.2H436.8M424.7 91.2V60H632.3V139.4M620.3 139.4H642.7" stroke="#000" stroke-width="1.6" fill="none" stroke-linejoin="round"/>
<path d="M57.4 314.6H106M81.9 314.6V276.9H289.9V301.8M262.8 301.8H314.5" stroke="#000" stroke-width="1.6" fill="none" stroke-linejoin="round"/>
<path d="M415 331.5H442.8M430 331.5V272.2H640.4V338.4M625 338.4H654.2" stroke="#000" stroke-width="1.6" fill="none" stroke-linejoin="round"/>
<path d="M451 331V292.2H662.4V340.2" stroke="#000" stroke-width="1.6" fill="none" stroke-linejoin="round"/>
<text transform="translate(184,76.2) scale(1,1.15)" class="st">***</text>
<text transform="translate(533.4,63.3) scale(1,1.15)" class="st">***</text>
<text transform="translate(195.4,280.8) scale(1,1.15)" class="st">***</text>
<text transform="translate(531,276.3) scale(1,1.15)" class="st">***</text>
<text transform="translate(559.2,295.3) scale(1,1.15)" class="st">**</text>
<rect x="166.00" y="0" width="22.8" height="13.9" fill="#EB6445"/>
<text x="191.60" y="11.4" class="lg">A1B1</text>
<rect x="224.65" y="0" width="22.8" height="13.9" fill="#FDD68E"/>
<text x="250.25" y="11.4" class="lg">A1B2</text>
<rect x="283.30" y="0" width="22.8" height="13.9" fill="#D4EBBB"/>
<text x="308.90" y="11.4" class="lg">A1B3</text>
<rect x="341.95" y="0" width="22.8" height="13.9" fill="#3777B4"/>
<text x="367.55" y="11.4" class="lg">A2B1</text>
<rect x="400.60" y="0" width="22.8" height="13.9" fill="#8BCDB4"/>
<text x="426.20" y="11.4" class="lg">A2B2</text>
<rect x="459.25" y="0" width="22.8" height="13.9" fill="#DDFCEC"/>
<text x="484.85" y="11.4" class="lg">CK</text>
<text x="187" y="488" class="xt" text-anchor="middle">Days of treatment</text>
<text x="544" y="486" class="xt" text-anchor="middle">Days of treatment</text>
<text transform="translate(13,129.5) rotate(-90)" class="yl" text-anchor="middle" letter-spacing="0.25"><tspan style="font-style:italic" font-size="17.5">P</tspan><tspan font-size="12" dx="-2" dy="4">n</tspan><tspan font-size="12" dy="-4">(</tspan><tspan>μmol·m</tspan><tspan font-size="11" dy="-5">-2</tspan><tspan dy="5">·s</tspan><tspan font-size="11" dy="-5">-1</tspan><tspan font-size="12" dy="5">)</tspan></text>
<text transform="translate(363.5,131.0) rotate(-90)" class="yl" text-anchor="middle" letter-spacing="0.4"><tspan style="font-style:italic" font-size="17.5">C</tspan><tspan font-size="12" dx="-2" dy="4">i</tspan><tspan font-size="12" dy="-4">(</tspan><tspan>mmol·m</tspan><tspan font-size="11" dy="-5">-2</tspan><tspan dy="5">·s</tspan><tspan font-size="11" dy="-5">-1</tspan><tspan font-size="12" dy="5">)</tspan></text>
<text transform="translate(13.7,349) rotate(-90)" class="yl" text-anchor="middle" letter-spacing="0.2"><tspan style="font-style:italic" font-size="18">G</tspan><tspan font-size="13" dx="-1" dy="4">s</tspan><tspan font-size="12" dy="-4">(</tspan><tspan>mol·m</tspan><tspan font-size="11" dy="-5">-2</tspan><tspan dy="5">·s</tspan><tspan font-size="11" dy="-5">-1</tspan><tspan font-size="12" dy="5">)</tspan></text>
<text transform="translate(370.7,347.2) rotate(-90)" class="yl" text-anchor="middle" letter-spacing="0.2"><tspan style="font-style:italic" font-size="17.5">T</tspan><tspan font-size="12" dx="-2" dy="4">r</tspan><tspan font-size="12" dy="-4">(</tspan><tspan>μmol·m</tspan><tspan font-size="11" dy="-5">-2</tspan><tspan dy="5">·s</tspan><tspan font-size="11" dy="-5">-1</tspan><tspan font-size="12" dy="5">)</tspan></text>
</svg>
</body></html>
